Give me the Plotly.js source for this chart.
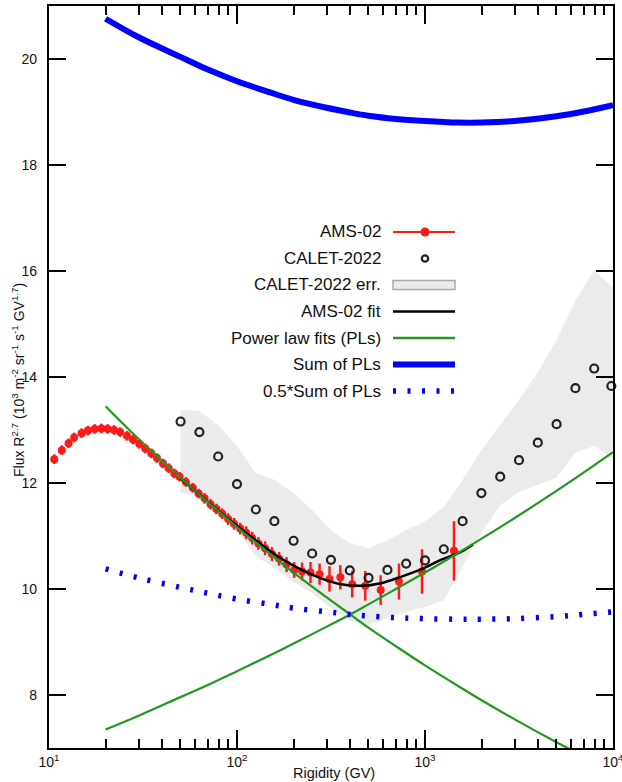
<!DOCTYPE html>
<html>
<head>
<meta charset="utf-8">
<script src="https://cdn.plot.ly/plotly-3.0.1.min.js"></script>
<style>html,body{margin:0;padding:0;background:#fff;}#chart{width:622px;height:782px;}</style>
</head>
<body>
<div id="chart"></div>
<script>
// ---- data ----
const amsR = [10.67, 11.7, 12.7, 13.6, 14.9, 16.1, 17.5, 19.0, 20.5, 22.2, 23.9, 26.0, 28.0, 30.2, 32.5, 35.0, 37.5, 40.4, 43.3, 46.4, 49.5, 53.5,
  58.2, 62.5, 67.2, 72.3, 77.7, 83.5, 89.7, 96.5, 104, 112, 120.5, 130, 141, 153.5, 167.5, 183.5,
  201.5, 222, 246, 275, 310.5, 354.5, 410, 481, 581, 727, 964, 1426];
const amsY = [12.45, 12.62, 12.75, 12.86, 12.94, 12.99, 13.02, 13.03, 13.02, 13.00, 12.96, 12.89, 12.82, 12.74, 12.65, 12.56, 12.47, 12.37, 12.28, 12.18, 12.12, 12.02,
  11.91, 11.80, 11.71, 11.60, 11.51, 11.42, 11.32, 11.23, 11.14, 11.06, 10.96, 10.86, 10.77, 10.66, 10.57, 10.46,
  10.36, 10.33, 10.31, 10.28, 10.19, 10.22, 10.09, 10.06, 9.98, 10.14, 10.33, 10.72];
const amsErr = [0.09, 0.09, 0.09, 0.09, 0.09, 0.09, 0.09, 0.09, 0.09, 0.09, 0.09, 0.09, 0.09, 0.09, 0.09, 0.09, 0.09, 0.09, 0.09, 0.09, 0.09, 0.09,
  0.09, 0.09, 0.1, 0.1, 0.1, 0.1, 0.11, 0.11, 0.11, 0.12, 0.12, 0.12, 0.13, 0.13, 0.13, 0.14,
  0.15, 0.17, 0.2, 0.2, 0.24, 0.23, 0.25, 0.28, 0.28, 0.34, 0.42, 0.56];

const calR = [50.1, 63.1, 79.4, 100, 126, 158, 200, 251, 316, 398, 501, 631, 794, 1000, 1259, 1585, 1995, 2512, 3162, 3981, 5012, 6310, 7943, 9800];
const calY = [13.16, 12.96, 12.50, 11.98, 11.50, 11.28, 10.91, 10.67, 10.55, 10.35, 10.21, 10.36, 10.48, 10.54, 10.75, 11.28, 11.81, 12.12, 12.43, 12.76, 13.11, 13.79, 14.16, 13.83];

const bandR  = [50.1, 63.1, 79.4, 100, 126, 158, 200, 251, 316, 398, 501, 631, 794, 1000, 1259, 1585, 1995, 2512, 3162, 3981, 5012, 6310, 7943, 10000];
const bandUp = [13.38, 13.36, 13.09, 12.70, 12.19, 12.06, 11.81, 11.49, 11.11, 10.87, 10.77, 10.92, 11.11, 11.28, 11.55, 12.06, 12.62, 13.09, 13.57, 14.09, 14.70, 15.45, 16.02, 15.68];
const bandLo = [11.81, 11.74, 11.40, 11.11, 10.62, 10.40, 10.13, 9.92, 9.64, 9.40, 9.32, 9.45, 9.57, 9.66, 9.79, 10.43, 11.06, 11.58, 11.83, 11.96, 12.11, 12.57, 12.70, 12.47];

const fitR = [50, 60, 80, 100, 130, 171, 221, 280, 357, 457, 583, 745, 952, 1217, 1552, 1800];
const fitY = [12.09, 11.85, 11.47, 11.19, 10.88, 10.58, 10.36, 10.20, 10.09, 10.06, 10.11, 10.23, 10.37, 10.55, 10.70, 10.84];

const plR  = [20, 30, 50, 70, 100, 150, 200, 300, 400, 500, 700, 1000, 1500, 2000, 3000, 5000, 7000, 10000];
const pl1  = [13.45, 12.83, 12.10, 11.64, 11.17, 10.66, 10.31, 9.84, 9.52, 9.27, 8.92, 8.56, 8.17, 7.90, 7.54, 7.11, 6.84, 6.56];
const pl2  = [7.35, 7.61, 7.96, 8.19, 8.45, 8.75, 8.97, 9.29, 9.52, 9.71, 10.00, 10.31, 10.68, 10.95, 11.34, 11.85, 12.20, 12.58];
const plSum  = [20.76, 20.41, 20.04, 19.80, 19.58, 19.37, 19.23, 19.08, 18.99, 18.93, 18.87, 18.83, 18.80, 18.80, 18.83, 18.92, 19.01, 19.13];
const plHalf = [10.38, 10.21, 10.03, 9.92, 9.81, 9.71, 9.64, 9.57, 9.52, 9.49, 9.46, 9.44, 9.43, 9.43, 9.44, 9.48, 9.52, 9.57];

const xTickVals = [10, 100, 1000, 10000];
const xTickText = ['10<sup>1</sup>', '10<sup>2</sup>', '10<sup>3</sup>', '10<sup>4</sup>'];
const xMinorVals = [20,30,40,50,60,70,80,90,200,300,400,500,600,700,800,900,2000,3000,4000,5000,6000,7000,8000,9000];
const yTickVals = [8, 10, 12, 14, 16, 18, 20];

const legendNames = ['AMS-02', 'CALET-2022', 'CALET-2022 err.', 'AMS-02 fit', 'Power law fits (PLs)', 'Sum of PLs', '0.5*Sum of PLs'];

// ---- styles ----
const RED = '#ff1a1a', GREEN = '#1f9a1f', BLUE = '#0000ff', BAND = '#ebebeb';
const FONT = '"Liberation Sans", Arial, Helvetica, sans-serif';

// ---- layout geometry (pixels) ----
const W = 622, H = 782, L = 49, R = 9, T = 6, B = 34;
const PW = W - L - R, PH = H - T - B;
const px = v => (v - L) / PW;
const py = v => (H - B - v) / PH;

const traces = [
  { x: bandR.concat(bandR.slice().reverse()), y: bandUp.concat(bandLo.slice().reverse()),
    type: 'scatter', mode: 'lines', fill: 'toself', fillcolor: BAND, line: { width: 0, color: BAND },
    hoverinfo: 'skip', showlegend: false },
  { x: amsR, y: amsY, type: 'scatter', mode: 'markers',
    marker: { color: RED, size: 8 },
    error_y: { type: 'data', array: amsErr, color: RED, thickness: 2.5, width: 0 }, showlegend: false },
  { x: calR, y: calY, type: 'scatter', mode: 'markers', cliponaxis: false,
    marker: { symbol: 'circle-open', color: '#222', size: 8, line: { width: 2.2, color: '#222' } }, showlegend: false },
  { x: fitR, y: fitY, type: 'scatter', mode: 'lines', line: { color: '#000', width: 2.5, shape: 'spline' }, showlegend: false },
  { x: plR, y: pl1, type: 'scatter', mode: 'lines', line: { color: GREEN, width: 2.2, shape: 'spline' }, showlegend: false },
  { x: plR, y: pl2, type: 'scatter', mode: 'lines', line: { color: GREEN, width: 2.2, shape: 'spline' }, showlegend: false },
  { x: plR, y: plSum, type: 'scatter', mode: 'lines', line: { color: BLUE, width: 6, shape: 'spline' }, showlegend: false },
  { x: plR, y: plHalf, type: 'scatter', mode: 'lines', line: { color: BLUE, width: 5.5, dash: '3px,11.5px', shape: 'spline' }, showlegend: false }
];

// ---- custom legend (text left, symbol right) ----
const legY = [232, 258.5, 285, 311.5, 338, 364.5, 391];
const sx0 = 393, sx1 = 455, sxm = 425;
const annotations = legendNames.map((n, i) => ({
  text: n, xref: 'paper', yref: 'paper', x: px(383), y: py(legY[i]), xanchor: 'right', yanchor: 'middle',
  showarrow: false, font: { family: FONT, size: 17, color: '#111' }
}));
annotations.push({ text: 'Rigidity (GV)', xref: 'paper', yref: 'paper', x: px(334), y: py(773),
  xanchor: 'center', yanchor: 'middle', showarrow: false, font: { family: FONT, size: 14.5, color: '#111' } });
annotations.push({ text: 'Flux R<sup>2.7</sup> (10<sup>3</sup> m<sup>-2</sup> sr<sup>-1</sup> s<sup>-1</sup> GV<sup>1.7</sup>)',
  xref: 'paper', yref: 'paper', x: px(18), y: py(380), xanchor: 'center', yanchor: 'middle', textangle: -90,
  showarrow: false, font: { family: FONT, size: 14, color: '#111' } });

const hline = (yy, color, width, dash) => ({ type: 'line', xref: 'paper', yref: 'paper',
  x0: px(sx0), x1: px(sx1), y0: py(yy), y1: py(yy), line: { color: color, width: width, dash: dash || 'solid' } });
const circ = (cx, cy, r, fill, lc, lw) => ({ type: 'circle', xref: 'paper', yref: 'paper',
  x0: px(cx - r), x1: px(cx + r), y0: py(cy + r), y1: py(cy - r), fillcolor: fill, line: { color: lc, width: lw } });

const shapes = [
  hline(legY[0], RED, 2),
  circ(sxm, legY[0], 4.5, RED, RED, 0),
  circ(sxm, legY[1], 3.2, 'rgba(0,0,0,0)', '#222', 2.2),
  { type: 'rect', xref: 'paper', yref: 'paper', x0: px(sx0), x1: px(sx1), y0: py(289.5), y1: py(280.5),
    fillcolor: BAND, line: { color: '#aaaaaa', width: 1.5 } },
  hline(legY[3], '#000', 2.5),
  hline(legY[4], GREEN, 2.5),
  hline(legY[5], BLUE, 6),
  hline(legY[6], BLUE, 5.5, '3px,11.5px')
];

const axisCommon = {
  showline: true, linecolor: '#000', linewidth: 2.2, mirror: 'ticks',
  ticks: 'inside', tickwidth: 2, tickcolor: '#000', showgrid: false, zeroline: false,
  ticklabeloverflow: 'allow',
  tickfont: { family: FONT, size: 14, color: '#111' }
};

const layout = {
  width: W, height: H,
  margin: { l: L, r: R, t: T, b: B, pad: 0 },
  paper_bgcolor: '#fff', plot_bgcolor: '#fff',
  showlegend: false,
  xaxis: Object.assign({}, axisCommon, {
    type: 'log', range: [1, 4], tickmode: 'array', tickvals: xTickVals, ticktext: xTickText, ticklen: 18,
    ticklabelstandoff: 0,
    minor: { tickmode: 'array', tickvals: xMinorVals, ticks: 'inside', ticklen: 9, tickwidth: 2, tickcolor: '#000', showgrid: false }
  }),
  yaxis: Object.assign({}, axisCommon, {
    range: [7, 21], tickmode: 'array', tickvals: yTickVals, ticklen: 17, ticklabelstandoff: 7
  }),
  annotations: annotations,
  shapes: shapes
};

Plotly.newPlot('chart', traces, layout, { displayModeBar: false, staticPlot: true });
</script>
</body>
</html>
